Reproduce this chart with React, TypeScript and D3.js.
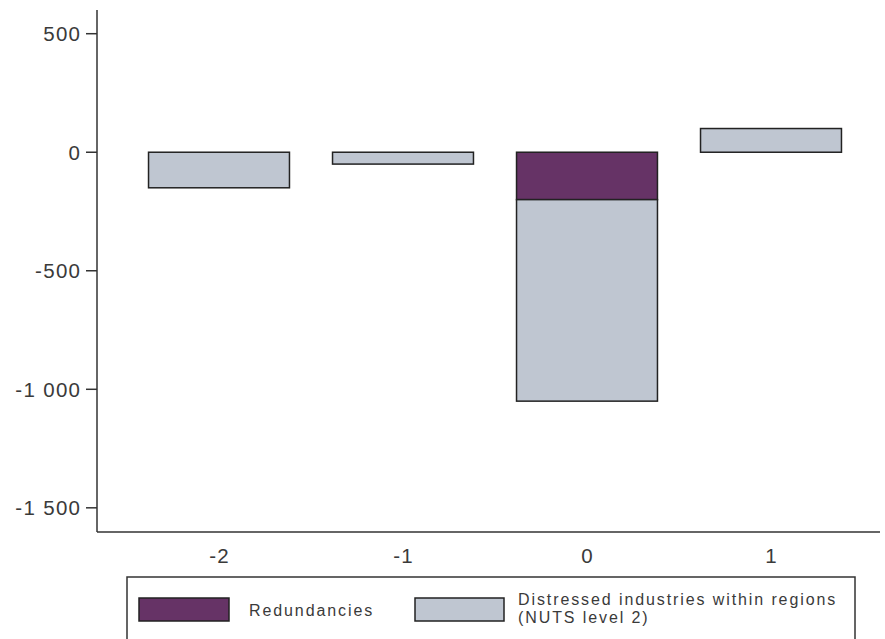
import React from "react";
import * as d3 from "d3";

const categories = ["-2", "-1", "0", "1"];
const redundancies = [0, 0, -200, 0];
const distressed = [-150, -50, -850, 100];
const yTicks = [-1500, -1000, -500, 0, 500];
const seriesNames = ["Redundancies", "Distressed industries within regions"];
const legendSecondLine = "(NUTS level 2)";
const seriesColors = ["#663366", "#BFC6D1"];

const W = 885;
const H = 639;

export default function App() {
  const x = d3
    .scaleBand<string>()
    .domain(categories)
    .range([127, 863])
    .paddingInner(0.234)
    .paddingOuter(0.117);
  const y = d3.scaleLinear().domain([-1602, 600]).range([532, 10]);

  const rows = categories.map((c, i) => ({
    cat: c,
    r: redundancies[i],
    d: distressed[i],
  }));
  const stack = d3
    .stack<any>()
    .keys(["r", "d"])
    .offset(d3.stackOffsetDiverging);
  const series = stack(rows);

  const fmt = (v: number) => {
    const s = d3.format(",")(Math.abs(v)).replace(/,/g, " ");
    return (v < 0 ? "-" : "") + s;
  };

  const font = "'Liberation Sans', Arial, sans-serif";
  const textColor = "#3a3a3a";
  const tickLS = 1.3;
  const legLS = 1.9;

  return (
    <svg
      width={W}
      height={H}
      style={{ position: "absolute", left: 0, top: 0, background: "#fff" }}
      fontFamily={font}
    >
      {/* bars */}
      {series.map((s, si) =>
        s.map((d, i) => {
          const y0 = y(d[0]);
          const y1 = y(d[1]);
          const top = Math.min(y0, y1);
          const h = Math.abs(y1 - y0);
          if (h < 0.5) return null;
          return (
            <rect
              key={si + "-" + i}
              x={x(categories[i])!}
              y={top}
              width={x.bandwidth()}
              height={h}
              fill={seriesColors[si]}
              stroke="#222"
              strokeWidth={1.5}
            />
          );
        })
      )}
      {/* y axis */}
      <line x1={97} x2={97} y1={10} y2={532} stroke="#333" strokeWidth={1.5} />
      {yTicks.map((t) => (
        <g key={t}>
          <line x1={86} x2={97} y1={y(t)} y2={y(t)} stroke="#333" strokeWidth={1.5} />
          <text
            x={80 + tickLS}
            y={y(t)}
            dy="0.36em"
            textAnchor="end"
            fontSize={20.5}
            letterSpacing={tickLS}
            fill={textColor}
          >
            {fmt(t)}
          </text>
        </g>
      ))}
      {/* x axis */}
      <line x1={97} x2={880} y1={532} y2={532} stroke="#333" strokeWidth={1.5} />
      {categories.map((c) => (
        <text
          key={c}
          x={x(c)! + x.bandwidth() / 2 + tickLS / 2}
          y={563}
          textAnchor="middle"
          fontSize={20.5}
          letterSpacing={tickLS}
          fill={textColor}
        >
          {c}
        </text>
      ))}
      {/* legend */}
      <rect x={127} y={577} width={728} height={80} fill="none" stroke="#333" strokeWidth={1.5} />
      <rect x={139} y={598} width={90} height={23} fill={seriesColors[0]} stroke="#222" strokeWidth={1.5} />
      <text x={249} y={616} fontSize={16} letterSpacing={legLS} fill={textColor}>
        {seriesNames[0]}
      </text>
      <rect x={415} y={598} width={89} height={23} fill={seriesColors[1]} stroke="#222" strokeWidth={1.5} />
      <text x={518} y={605} fontSize={16} letterSpacing={legLS} fill={textColor}>
        {seriesNames[1]}
      </text>
      <text x={518} y={623} fontSize={16} letterSpacing={legLS} fill={textColor}>
        {legendSecondLine}
      </text>
    </svg>
  );
}
